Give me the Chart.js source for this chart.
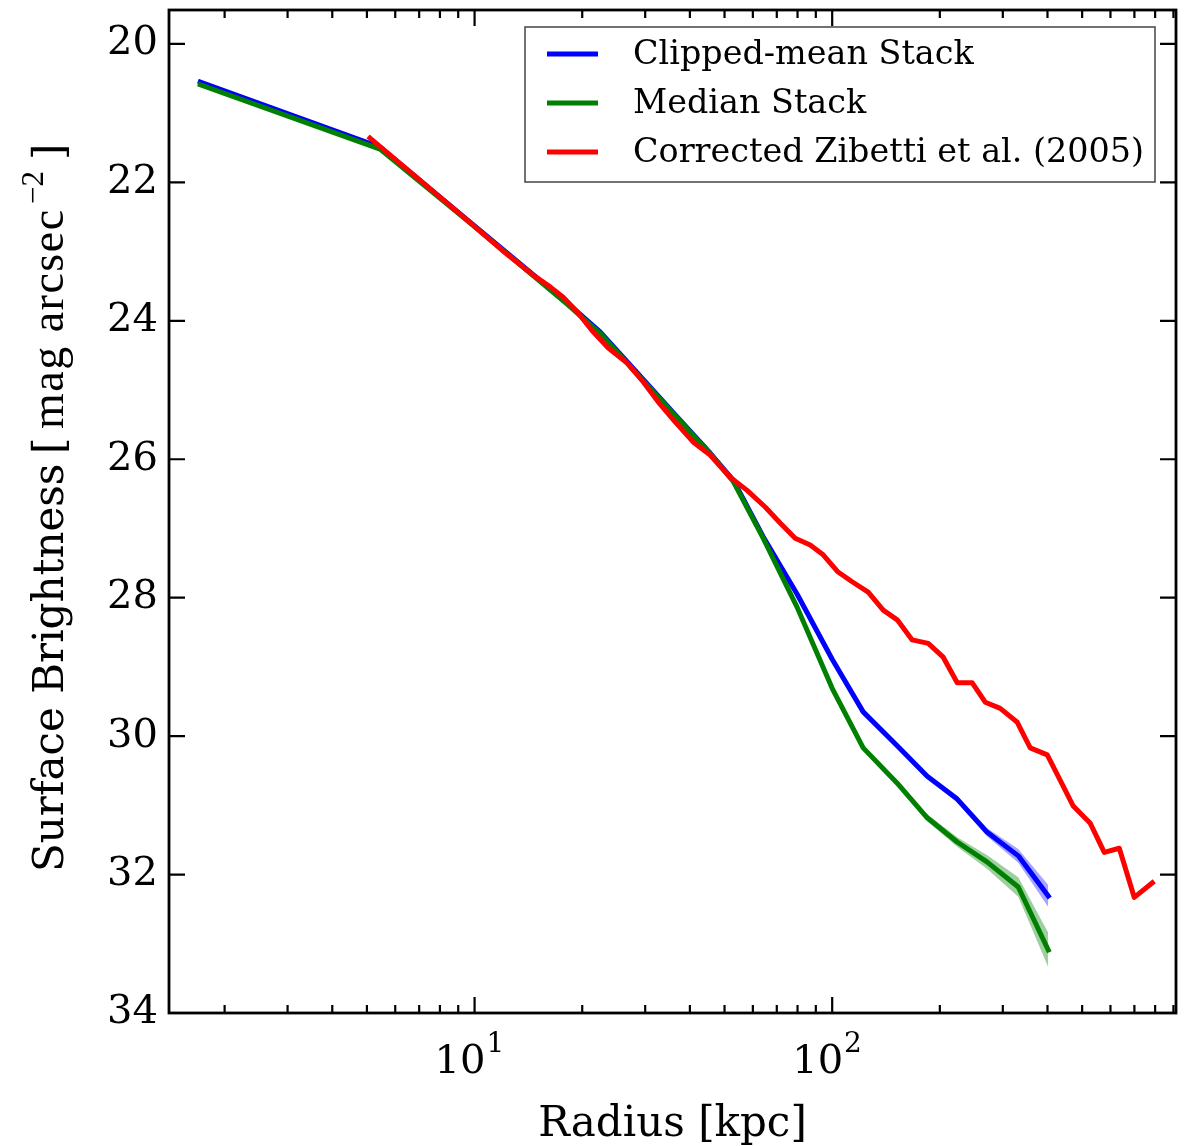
<!DOCTYPE html>
<html>
<head>
<meta charset="utf-8">
<script src="https://cdn.jsdelivr.net/npm/chart.js@4.4.1/dist/chart.umd.min.js"></script>
<style>
  html, body { margin: 0; padding: 0; background: #fff; }
  #wrap { width: 1187px; height: 1146px; }
</style>
</head>
<body>
<div id="wrap"><canvas id="sbChart"></canvas></div>
<script>
// radii (kpc) of the stacked profiles
const stackRadius = [1.71, 5.44, 10.0, 18.15, 22.44, 28.48, 36.85, 45.57, 52.87, 64.12, 79.82, 100.0, 122.1, 152.0, 184.4, 223.7, 271.4, 331.4, 402.0];

// clipped-mean stack, mag arcsec^-2, and its 1-sigma spread
const clippedMean    = [20.55, 21.49, 22.63, 23.74, 24.16, 24.75, 25.39, 25.91, 26.30, 27.12, 27.95, 28.89, 29.65, 30.14, 30.58, 30.91, 31.39, 31.73, 32.31];
const clippedMeanErr = [0, 0, 0, 0, 0, 0, 0, 0, 0, 0.01, 0.01, 0.01, 0.01, 0.02, 0.03, 0.05, 0.06, 0.10, 0.16];

// median stack
const medianStack = [20.59, 21.52, 22.64, 23.76, 24.18, 24.77, 25.40, 25.92, 26.32, 27.14, 28.14, 29.31, 30.17, 30.68, 31.18, 31.53, 31.82, 32.18, 33.09];
const medianErr   = [0, 0, 0, 0, 0, 0, 0, 0, 0, 0.01, 0.01, 0.02, 0.02, 0.03, 0.05, 0.07, 0.10, 0.14, 0.25];

// corrected Zibetti et al. (2005) profile
const zibettiRadius = [5.10, 6.82, 9.11, 11.94, 14.58, 16.27, 17.69, 19.35, 21.46, 23.62, 26.71, 29.60, 32.61, 36.38, 40.85, 45.57, 51.84, 57.83, 64.95, 71.53, 78.80, 86.80, 94.36, 103.9, 113.7, 126.1, 138.9, 152.0, 167.4, 185.6, 204.4, 223.7, 246.4, 267.9, 295.1, 329.3, 357.9, 399.4, 434.3, 472.2, 526.9, 576.6, 635.1, 699.5, 785.6];
const zibettiSB     = [21.36, 21.91, 22.46, 22.98, 23.34, 23.51, 23.66, 23.87, 24.16, 24.39, 24.61, 24.88, 25.17, 25.46, 25.75, 25.94, 26.26, 26.45, 26.69, 26.92, 27.14, 27.24, 27.38, 27.63, 27.77, 27.92, 28.18, 28.32, 28.61, 28.66, 28.86, 29.23, 29.23, 29.51, 29.60, 29.80, 30.17, 30.27, 30.64, 31.01, 31.26, 31.68, 31.62, 32.33, 32.12];

const yTicks = [20, 22, 24, 26, 28, 30, 32, 34];
const xMajorTicks = [10, 100];
const xMajorExp = ['1', '2'];

const SERIF = "'DejaVu Serif', serif";

function pts(xs, ys) {
  return xs.map((r, i) => ({ x: r, y: ys[i] }));
}
function shifted(ys, errs, sign) {
  return ys.map((v, i) => v + sign * errs[i]);
}

function line(label, color, data, order) {
  return {
    label: label, data: data, borderColor: color, backgroundColor: color,
    borderWidth: 5, pointRadius: 0, fill: false, order: order,
    borderJoinStyle: 'round', borderCapStyle: 'square', legendEntry: true
  };
}
function band(data, color, fill, order) {
  return {
    data: data, borderWidth: 0, borderColor: 'transparent', pointRadius: 0,
    backgroundColor: color, fill: fill, order: order
  };
}

// frame, inward ticks, custom tick labels, axis titles and legend
const axisDecor = {
  id: 'axisDecor',
  afterDraw(chart) {
    const { ctx, chartArea: a, scales: { x, y } } = chart;
    ctx.save();
    ctx.strokeStyle = '#000';
    ctx.fillStyle = '#000';

    // ticks
    ctx.lineWidth = 2.2;
    ctx.beginPath();
    yTicks.forEach(v => {
      const py = y.getPixelForValue(v);
      ctx.moveTo(a.left, py); ctx.lineTo(a.left + 16, py);
      ctx.moveTo(a.right, py); ctx.lineTo(a.right - 16, py);
    });
    xMajorTicks.forEach(v => {
      const px = x.getPixelForValue(v);
      ctx.moveTo(px, a.bottom); ctx.lineTo(px, a.bottom - 16);
      ctx.moveTo(px, a.top); ctx.lineTo(px, a.top + 16);
    });
    [1, 10, 100].forEach(dec => {
      for (let m = 2; m <= 9; m++) {
        const v = m * dec;
        if (v <= x.min || v >= x.max) continue;
        const px = x.getPixelForValue(v);
        ctx.moveTo(px, a.bottom); ctx.lineTo(px, a.bottom - 8);
        ctx.moveTo(px, a.top); ctx.lineTo(px, a.top + 8);
      }
    });
    ctx.stroke();

    // frame
    ctx.lineWidth = 2.8;
    ctx.strokeRect(a.left, a.top, a.right - a.left, a.bottom - a.top);

    // x tick labels as 10^n
    ctx.textBaseline = 'alphabetic';
    ctx.textAlign = 'left';
    xMajorTicks.forEach((v, i) => {
      const px = x.getPixelForValue(v);
      ctx.font = '40px ' + SERIF;
      const w = ctx.measureText('10').width;
      ctx.fillText('10', px - 40, 1073);
      ctx.font = '28px ' + SERIF;
      ctx.fillText(xMajorExp[i], px - 40 + w + 1, 1052);
    });

    // x title
    ctx.font = '42px ' + SERIF;
    ctx.textAlign = 'center';
    ctx.fillText('Radius [kpc]', (a.left + a.right) / 2, 1136);

    // y title, rotated
    ctx.save();
    ctx.translate(63, 872);
    ctx.rotate(-Math.PI / 2);
    ctx.textAlign = 'left';
    ctx.font = '42px ' + SERIF;
    ctx.fillText('Surface Brightness', 0, 0);
    ctx.fillText('[', 418, 0);
    ctx.font = '46px "Liberation Serif", serif';
    ctx.letterSpacing = '1.5px';
    ctx.fillText('mag arcsec', 443, 0);
    ctx.letterSpacing = '0px';
    ctx.font = '31px "Liberation Serif", serif';
    ctx.fillText('\u22122', 668, -20);
    ctx.font = '42px ' + SERIF;
    ctx.fillText(']', 712, 0);
    ctx.restore();

    // legend
    const lx = 525, ly = 27, lw = 630, lh = 155;
    ctx.fillStyle = '#fff';
    ctx.fillRect(lx, ly, lw, lh);
    ctx.strokeStyle = '#444';
    ctx.lineWidth = 1.5;
    ctx.strokeRect(lx, ly, lw, lh);
    ctx.font = '33.4px ' + SERIF;
    ctx.textAlign = 'left';
    ctx.textBaseline = 'middle';
    const entries = chart.data.datasets.filter(d => d.legendEntry);
    entries.forEach((d, i) => {
      const cy = 54 + i * 49;
      ctx.strokeStyle = d.borderColor;
      ctx.lineWidth = 5;
      ctx.beginPath();
      ctx.moveTo(547, cy); ctx.lineTo(598, cy);
      ctx.stroke();
      ctx.fillStyle = '#000';
      ctx.fillText(d.label, 633, cy + 1);
    });
    ctx.restore();
  }
};

new Chart(document.getElementById('sbChart'), {
  type: 'line',
  data: {
    datasets: [
      line('Clipped-mean Stack', '#0000ff', pts(stackRadius, clippedMean), 2),
      line('Median Stack', '#008000', pts(stackRadius, medianStack), 1),
      line('Corrected Zibetti et al. (2005)', '#ff0000', pts(zibettiRadius, zibettiSB), 0),
      band(pts(stackRadius, shifted(clippedMean, clippedMeanErr, 1)), 'rgba(0,0,255,0.35)', '+1', 5),
      band(pts(stackRadius, shifted(clippedMean, clippedMeanErr, -1)), 'rgba(0,0,255,0.35)', false, 5),
      band(pts(stackRadius, shifted(medianStack, medianErr, 1)), 'rgba(0,128,0,0.38)', '+1', 4),
      band(pts(stackRadius, shifted(medianStack, medianErr, -1)), 'rgba(0,128,0,0.38)', false, 4)
    ]
  },
  options: {
    responsive: true,
    maintainAspectRatio: false,
    animation: false,
    layout: { padding: { top: 10, right: 11, left: 0, bottom: 0 } },
    plugins: { legend: { display: false }, tooltip: { enabled: false } },
    scales: {
      x: {
        type: 'logarithmic', min: 1.398, max: 915,
        grid: { display: false, drawTicks: false },
        border: { display: false },
        ticks: { display: false },
        afterFit(s) { s.height = 133; s.paddingLeft = 0; s.paddingRight = 0; }
      },
      y: {
        type: 'linear', reverse: true, min: 19.51, max: 34,
        grid: { display: false, drawTicks: false },
        border: { display: false },
        ticks: { font: { family: 'DejaVu Serif', size: 40 }, color: '#000', padding: 11 },
        afterBuildTicks(s) { s.ticks = yTicks.map(v => ({ value: v })); },
        afterFit(s) { s.width = 169; s.paddingTop = 0; s.paddingBottom = 0; }
      }
    }
  },
  plugins: [axisDecor]
});
</script>
</body>
</html>
